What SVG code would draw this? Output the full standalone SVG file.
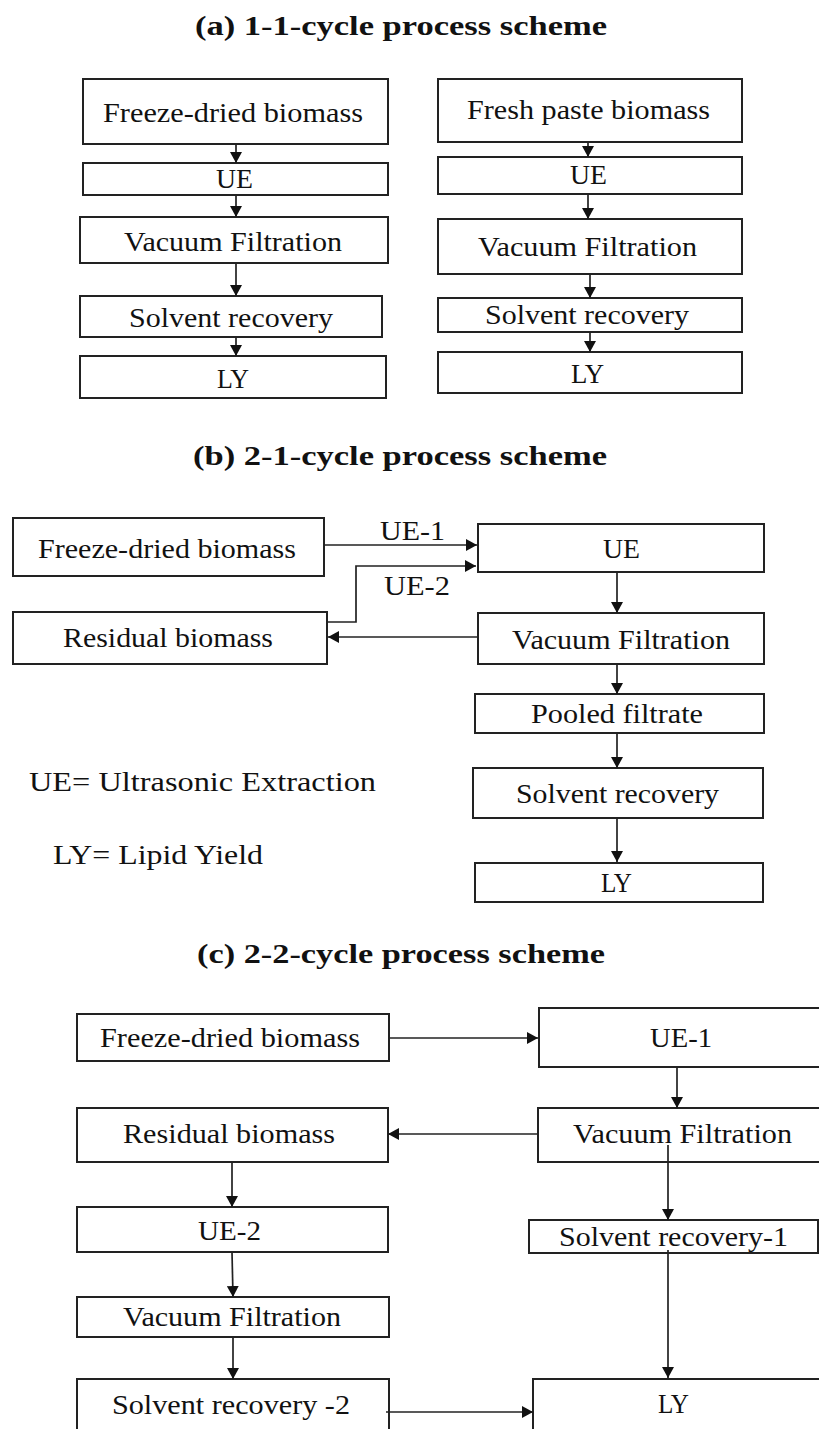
<svg xmlns="http://www.w3.org/2000/svg" width="819" height="1429" viewBox="0 0 819 1429">
  <style>
    .box { fill: #ffffff; stroke: #222222; stroke-width: 2; }
    text { font-family: 'Liberation Serif', Tinos, 'Times New Roman', Times, serif; fill: #111111; }
    .lbl { font-size: 28px; }
    .ttl { font-size: 27px; font-weight: bold; }
    .cn { fill: none; stroke: #222222; stroke-width: 1.7; marker-end: url(#arrow); }
  </style>
  <defs>
    <marker id="arrow" markerUnits="userSpaceOnUse" markerWidth="12" markerHeight="12" refX="11" refY="6" orient="auto">
      <path d="M0,0 L11,6 L0,12 z" fill="#111111"/>
    </marker>
  </defs>
  <rect width="819" height="1429" fill="#ffffff"/>

  <!-- section titles -->
  <g id="titles" font-family="Liberation Serif, serif">
    <text class="ttl" x="195" y="35" textLength="412" lengthAdjust="spacingAndGlyphs">(a) 1-1-cycle process scheme</text>
    <text class="ttl" x="193" y="465" textLength="414" lengthAdjust="spacingAndGlyphs">(b) 2-1-cycle process scheme</text>
    <text class="ttl" x="197" y="963" textLength="408" lengthAdjust="spacingAndGlyphs">(c) 2-2-cycle process scheme</text>
  </g>

  <!-- (a) freeze-dried column -->
  <g id="a1-freeze"><rect class="box" x="83" y="79" width="305" height="65"/><text class="lbl" x="103" y="122" textLength="260" lengthAdjust="spacingAndGlyphs">Freeze-dried biomass</text></g>
  <g id="a1-ue"><rect class="box" x="83" y="163" width="305" height="32"/><text class="lbl" x="216" y="188" textLength="37" lengthAdjust="spacingAndGlyphs">UE</text></g>
  <g id="a1-vf"><rect class="box" x="80" y="217" width="308" height="46"/><text class="lbl" x="124" y="251" textLength="218" lengthAdjust="spacingAndGlyphs">Vacuum Filtration</text></g>
  <g id="a1-sr"><rect class="box" x="80" y="296" width="302" height="41"/><text class="lbl" x="129" y="327" textLength="204" lengthAdjust="spacingAndGlyphs">Solvent recovery</text></g>
  <g id="a1-ly"><rect class="box" x="80" y="356" width="306" height="42"/><text class="lbl" x="217" y="388" textLength="32" lengthAdjust="spacingAndGlyphs">LY</text></g>

  <!-- (a) fresh paste column -->
  <g id="a2-fresh"><rect class="box" x="438" y="79" width="304" height="63"/><text class="lbl" x="467" y="119" textLength="243" lengthAdjust="spacingAndGlyphs">Fresh paste biomass</text></g>
  <g id="a2-ue"><rect class="box" x="438" y="157" width="304" height="37"/><text class="lbl" x="570" y="184" textLength="37" lengthAdjust="spacingAndGlyphs">UE</text></g>
  <g id="a2-vf"><rect class="box" x="438" y="219" width="304" height="55"/><text class="lbl" x="478" y="256" textLength="219" lengthAdjust="spacingAndGlyphs">Vacuum Filtration</text></g>
  <g id="a2-sr"><rect class="box" x="438" y="298" width="304" height="34"/><text class="lbl" x="485" y="324" textLength="204" lengthAdjust="spacingAndGlyphs">Solvent recovery</text></g>
  <g id="a2-ly"><rect class="box" x="438" y="352" width="304" height="41"/><text class="lbl" x="571" y="383" textLength="33" lengthAdjust="spacingAndGlyphs">LY</text></g>

  <!-- (b) nodes -->
  <g id="b-freeze"><rect class="box" x="13" y="518" width="311" height="58"/><text class="lbl" x="38" y="558" textLength="258" lengthAdjust="spacingAndGlyphs">Freeze-dried biomass</text></g>
  <g id="b-residual"><rect class="box" x="13" y="612" width="314" height="52"/><text class="lbl" x="63" y="647" textLength="210" lengthAdjust="spacingAndGlyphs">Residual biomass</text></g>
  <g id="b-ue"><rect class="box" x="478" y="524" width="286" height="48"/><text class="lbl" x="603" y="558" textLength="37" lengthAdjust="spacingAndGlyphs">UE</text></g>
  <g id="b-vf"><rect class="box" x="478" y="613" width="286" height="51"/><text class="lbl" x="512" y="649" textLength="218" lengthAdjust="spacingAndGlyphs">Vacuum Filtration</text></g>
  <g id="b-pooled"><rect class="box" x="475" y="694" width="289" height="39"/><text class="lbl" x="531" y="723" textLength="172" lengthAdjust="spacingAndGlyphs">Pooled filtrate</text></g>
  <g id="b-sr"><rect class="box" x="473" y="768" width="290" height="50"/><text class="lbl" x="516" y="803" textLength="203" lengthAdjust="spacingAndGlyphs">Solvent recovery</text></g>
  <g id="b-ly"><rect class="box" x="475" y="863" width="288" height="39"/><text class="lbl" x="601" y="892" textLength="31" lengthAdjust="spacingAndGlyphs">LY</text></g>

  <!-- (b) legend -->
  <g id="legend">
    <text class="lbl" x="29" y="791" textLength="347" lengthAdjust="spacingAndGlyphs">UE= Ultrasonic Extraction</text>
    <text class="lbl" x="53" y="864" textLength="210" lengthAdjust="spacingAndGlyphs">LY= Lipid Yield</text>
  </g>

  <!-- (c) nodes -->
  <g id="c-freeze"><rect class="box" x="77" y="1014" width="312" height="47"/><text class="lbl" x="100" y="1047" textLength="260" lengthAdjust="spacingAndGlyphs">Freeze-dried biomass</text></g>
  <g id="c-ue1"><rect class="box" x="539" y="1008" width="300" height="59"/><text class="lbl" x="650" y="1047" textLength="62" lengthAdjust="spacingAndGlyphs">UE-1</text></g>
  <g id="c-residual"><rect class="box" x="77" y="1108" width="311" height="54"/><text class="lbl" x="123" y="1143" textLength="212" lengthAdjust="spacingAndGlyphs">Residual biomass</text></g>
  <g id="c-vf1"><rect class="box" x="538" y="1108" width="301" height="54"/><text class="lbl" x="573" y="1143" textLength="219" lengthAdjust="spacingAndGlyphs">Vacuum Filtration</text></g>
  <g id="c-ue2"><rect class="box" x="77" y="1207" width="311" height="45"/><text class="lbl" x="198" y="1240" textLength="63" lengthAdjust="spacingAndGlyphs">UE-2</text></g>
  <g id="c-sr1"><rect class="box" x="529" y="1220" width="289" height="33"/><text class="lbl" x="559" y="1246" textLength="229" lengthAdjust="spacingAndGlyphs">Solvent recovery-1</text></g>
  <g id="c-vf2"><rect class="box" x="77" y="1297" width="312" height="40"/><text class="lbl" x="123" y="1326" textLength="218" lengthAdjust="spacingAndGlyphs">Vacuum Filtration</text></g>
  <g id="c-sr2"><rect class="box" x="77" y="1379" width="312" height="70"/><text class="lbl" x="112" y="1414" textLength="238" lengthAdjust="spacingAndGlyphs">Solvent recovery -2</text></g>
  <g id="c-ly"><rect class="box" x="533" y="1379" width="306" height="70"/><text class="lbl" x="658" y="1413" textLength="31" lengthAdjust="spacingAndGlyphs">LY</text></g>

  <!-- connectors -->
  <g id="connectors">
    <!-- (a) -->
    <line class="cn" x1="236" y1="144" x2="236" y2="163"/>
    <line class="cn" x1="236" y1="195" x2="236" y2="217"/>
    <line class="cn" x1="236" y1="263" x2="236" y2="296"/>
    <line class="cn" x1="236" y1="337" x2="236" y2="356"/>
    <line class="cn" x1="588" y1="142" x2="588" y2="157"/>
    <line class="cn" x1="588" y1="194" x2="588" y2="219"/>
    <line class="cn" x1="590" y1="274" x2="590" y2="298"/>
    <line class="cn" x1="590" y1="332" x2="590" y2="352"/>
    <!-- (b) -->
    <line class="cn" x1="324" y1="545" x2="477" y2="545"/>
    <polyline class="cn" points="328,622 356,622 356,566 476,566"/>
    <line class="cn" x1="478" y1="637" x2="328" y2="637"/>
    <line class="cn" x1="617" y1="572" x2="617" y2="613"/>
    <line class="cn" x1="617" y1="664" x2="617" y2="694"/>
    <line class="cn" x1="617" y1="733" x2="617" y2="768"/>
    <line class="cn" x1="617" y1="818" x2="617" y2="862"/>
    <text class="lbl" x="380" y="540" textLength="65" lengthAdjust="spacingAndGlyphs">UE-1</text>
    <text class="lbl" x="384" y="595" textLength="66" lengthAdjust="spacingAndGlyphs">UE-2</text>
    <!-- (c) -->
    <line class="cn" x1="389" y1="1038" x2="538" y2="1038"/>
    <line class="cn" x1="538" y1="1134" x2="388" y2="1134"/>
    <line class="cn" x1="677" y1="1067" x2="677" y2="1108"/>
    <line class="cn" x1="668" y1="1145" x2="668" y2="1220"/>
    <line class="cn" x1="668" y1="1250" x2="668" y2="1378"/>
    <line class="cn" x1="232" y1="1162" x2="232" y2="1207"/>
    <line class="cn" x1="232" y1="1252" x2="233" y2="1297"/>
    <line class="cn" x1="233" y1="1337" x2="233" y2="1379"/>
    <line class="cn" x1="386" y1="1412" x2="533" y2="1412"/>
  </g>
</svg>
